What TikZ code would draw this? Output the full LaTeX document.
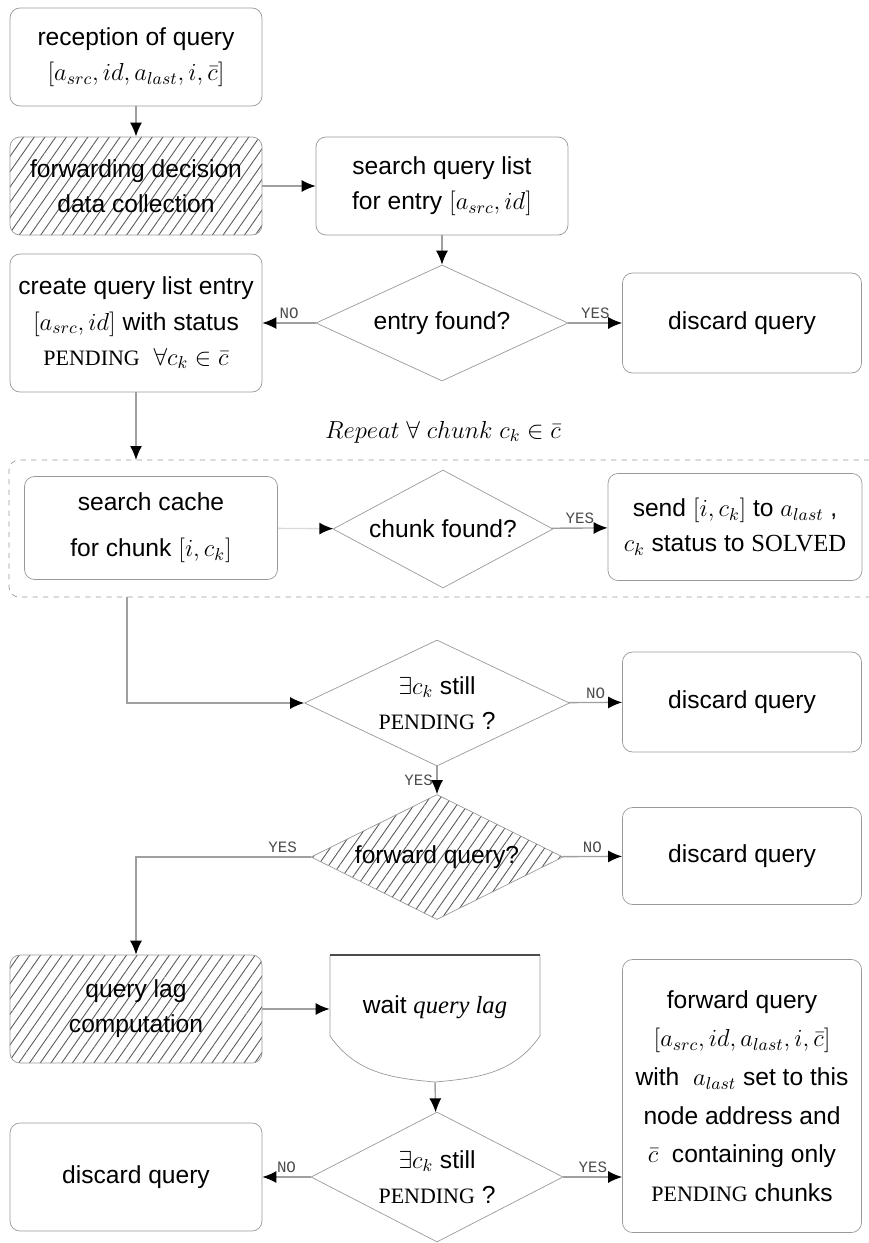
\RequirePackage{fix-cm}
\documentclass[tikz,border=0pt]{standalone}
\usepackage{amsmath,amssymb}
\usepackage{fontspec}
\setmainfont{Liberation Sans}
\newfontfamily\serifcaps{Liberation Serif}
\newfontfamily\ynfont{Liberation Mono}
\usetikzlibrary{arrows.meta, shapes.geometric, patterns.meta, positioning}

\newcommand{\pendtag}{{\serifcaps\fontsize{12.5}{14}\selectfont PENDING}}

\tikzset{
  box/.style={draw=gray!80, rounded corners=2mm, align=center, inner sep=1pt,
    minimum width=50.4mm, minimum height=19.6mm, font=\fontsize{14}{20}\selectfont},
  hatch/.style={pattern={Lines[angle=55,distance=5pt,line width=0.5pt]}, pattern color=black!65},
  decision/.style={diamond, draw=gray!80, shape aspect=2, inner sep=0pt, align=center,
    minimum width=50.4mm, minimum height=23.2mm, font=\fontsize{14}{20}\selectfont},
  yn/.style={font=\ynfont\fontsize{9}{10}\selectfont, text=black!70, inner sep=2pt},
  link/.style={-{Latex[length=2.8mm,width=2.4mm,color=black]}, draw=gray!75, line width=0.8pt},
}

\begin{document}
\begin{tikzpicture}[x=0.2mm,y=-0.2mm]
\useasboundingbox (0,0) rectangle (869,1243);

% query reception and lookup
\node[box] (recv) at (136,57) {reception of query\\ $[a_{src}, id, a_{last}, i, \bar{c}]$};
\node[box, hatch] (collect) at (136,186) {forwarding decision\\ data collection};
\node[box] (search) at (442,186) {search query list\\ for entry $[a_{src}, id]$};
\node[decision] (found) at (442,323) {entry found?};
\node[box, minimum width=47.8mm, minimum height=20mm] (drop1) at (742,323) {discard query};
\node[box, minimum height=27.6mm] (create) at (136,323)
  {create query list entry\\ $[a_{src}, id]$ with status\\ \pendtag\ \ $\forall c_k \in \bar{c}$};

% loop over chunks
\node[font=\fontsize{14}{16}\selectfont] (repeat) at (443,432) {$Repeat\ \forall\ chunk\ c_k \in \bar{c}$};
\draw[gray!80, dashed, rounded corners=2mm] (880,460) -- (9,460) -- (9,597) -- (880,597);
\coordinate (looptop) at (136,460);
\coordinate (loopbot) at (127,597);
\node[box, minimum width=50.6mm, minimum height=20.6mm] (cache) at (151,528) {search cache\\[6pt] for chunk $[i, c_k]$};
\node[decision, minimum width=44mm, minimum height=23.6mm] (chunk) at (443,529) {chunk found?};
\node[box, minimum width=50.8mm, minimum height=21.4mm] (send) at (735,527)
  {send $[i, c_k]$ to $a_{last}$\ ,\\ $c_k$ status to {\serifcaps SOLVED}};

% pending check and forwarding decision
\node[decision, minimum width=53mm, minimum height=25.2mm] (pend1) at (437,703) {$\exists c_k$ still\\ \pendtag\ ?};
\node[box, minimum width=47.8mm, minimum height=20mm] (drop2) at (742,702) {discard query};
\node[decision, hatch, minimum height=25mm] (fwdq) at (437,857) {forward query?};
\node[box, minimum width=47.8mm, minimum height=19.4mm] (drop3) at (742,856) {discard query};

% query lag
\node[box, hatch, minimum height=21.6mm] (lag) at (136,1009) {query lag\\ computation};
\node[minimum width=42mm, font=\fontsize{14}{16}\selectfont] (wait) at (435,1007) {wait {\serifcaps\itshape query lag}};
\draw[gray!80] (330,955) -- (330,1036) to[out=-55,in=175] (435,1082)
  to[out=5,in=-125] (540,1036) -- (540,955);
\draw[gray!60!black, line width=1.6pt] (330,955) -- (540,955);
\coordinate (waitend) at (435,1082);
\node[decision, minimum height=26mm] (pend2) at (437,1177) {$\exists c_k$ still\\ \pendtag\ ?};
\node[box, minimum height=21.6mm] (drop4) at (136,1177) {discard query};
\node[box, minimum width=47.8mm, minimum height=54.6mm, font=\fontsize{14}{22}\selectfont] (fwd) at (742,1096)
  {forward query\\ $[a_{src}, id, a_{last}, i, \bar{c}]$\\ with\ \ $a_{last}$ set to this\\
   node address and\\ $\bar{c}$\ \ containing only\\ \pendtag\ chunks};

% connectors
\draw[link] (recv) -- (collect);
\draw[link] (collect) -- (search);
\draw[link] (search) -- (found);
\draw[link] (found) -- node[yn, above] {YES} (drop1);
\draw[link] (found) -- node[yn, above] {NO} (create);
\draw[link] (create) -- (looptop);
\draw[link, draw=gray!30] (cache) -- (chunk);
\draw[link] (chunk) -- node[yn, above] {YES} (send);
\draw[link] (loopbot) |- (pend1);
\draw[link] (pend1) -- node[yn, above] {NO} (drop2);
\draw[link] (pend1) -- node[yn, left] {YES} (fwdq);
\draw[link] (fwdq) -- node[yn, above] {NO} (drop3);
\draw[link] (fwdq) -| node[yn, above, pos=0.08] {YES} (lag);
\draw[link] (lag) -- (lag -| wait.west);
\draw[link] (waitend) -- (pend2);
\draw[link] (pend2) -- node[yn, above] {NO} (drop4);
\draw[link] (pend2.east) -- node[yn, above] {YES} (pend2 -| fwd.west);
\end{tikzpicture}
\end{document}
